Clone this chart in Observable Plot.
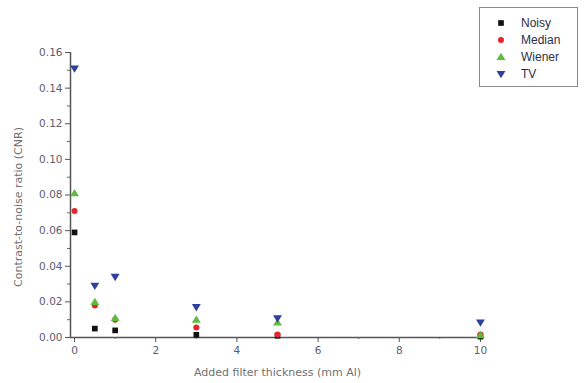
<!DOCTYPE html>
<html><head><meta charset="utf-8">
<script src="https://cdn.jsdelivr.net/npm/d3@7"></script>
<script src="https://cdn.jsdelivr.net/npm/@observablehq/plot@0.6"></script>
<style>
body{margin:0;background:#fff;font-family:"Liberation Sans",Arial,sans-serif;}
#wrap{position:relative;width:585px;height:383px;}
#legend{position:absolute;left:479px;top:7px;width:99px;height:80px;border:1.5px solid #888;box-sizing:border-box;background:#fff;}
.item{position:absolute;left:0;height:16px;display:flex;align-items:center;font-size:12px;color:#2c2f45;}
.item svg{margin-left:15px;margin-right:14px;}
</style></head>
<body><div id="wrap"><div id="legend"></div></div>
<script>
const thickness = [0, 0.5, 1, 3, 5, 10];
const series = ["Noisy", "Median", "Wiener", "TV"];
const noisy  = [0.059, 0.005, 0.004, 0.0015, 0.001, 0.0005];
const median = [0.071, 0.018, 0.010, 0.0056, 0.0017, 0.0017];
const wiener = [0.081, 0.020, 0.011, 0.010, 0.0085, 0.0013];
const tv     = [0.151, 0.029, 0.034, 0.017, 0.0107, 0.0084];
const colors = ["#111111", "#e8232b", "#5dbb3f", "#2f3f9c"];
const yTicks = [0, 0.02, 0.04, 0.06, 0.08, 0.10, 0.12, 0.14, 0.16];
const xTicks = [0, 2, 4, 6, 8, 10];
const xLabel = "Added filter thickness (mm Al)";
const yLabel = "Contrast-to-noise ratio (CNR)";

const triDown = {draw(ctx, size){const s=Math.sqrt(size/0.433)/2; ctx.moveTo(-s, -s*0.7); ctx.lineTo(s, -s*0.7); ctx.lineTo(0, s*0.95); ctx.closePath();}};
const triUp = {draw(ctx, size){const s=Math.sqrt(size/0.433)/2; ctx.moveTo(-s, s*0.7); ctx.lineTo(s, s*0.7); ctx.lineTo(0, -s*0.95); ctx.closePath();}};
const symbols = [d3.symbolSquare, d3.symbolCircle, triUp, triDown];
const sizes = [3.2, 3.0, 3.3, 3.3];
const vals = [noisy, median, wiener, tv];

const data = [];
series.forEach((s, i) => thickness.forEach((t, j) => data.push({series: s, x: t, y: vals[i][j]})));

const minorY = d3.range(1, 16, 2).map(d => d / 100);
const minorX = [1, 3, 5, 7, 9];
const txt = "#5a5d70";
const lab = "#707070";
const font = "DejaVu Sans, Verdana, sans-serif";
const marks = [
  Plot.ruleX([-0.1], {y1: 0, y2: 0.16, stroke: "#555", strokeWidth: 1.5}),
  Plot.ruleY([0], {x1: -0.1, x2: 10.1, stroke: "#555", strokeWidth: 1.5}),
  Plot.axisY(yTicks, {tickSize: 5, tickFormat: d3.format(".2f"), fontSize: 10.5, color: txt, stroke: "#555", tickPadding: 3, label: null}),
  Plot.axisY(minorY, {tickSize: 3, tickFormat: () => "", stroke: "#666", label: null}),
  Plot.axisX(xTicks, {tickSize: 5, fontSize: 10.5, color: txt, stroke: "#555", tickPadding: 4, label: null}),
  Plot.axisX(minorX, {tickSize: 2, tickFormat: () => "", stroke: "#666", label: null}),
  Plot.text([yLabel], {frameAnchor: "left", textAnchor: "middle", rotate: -90, dx: -52, dy: 12, fill: lab, fontSize: 11, text: d => d}),
  Plot.text([xLabel], {frameAnchor: "bottom", dy: 38, fill: lab, fontSize: 11, text: d => d})
];
series.forEach((s, i) => {
  marks.push(Plot.dot(data.filter(d => d.series === s), {x: "x", y: "y", symbol: () => symbols[i], r: sizes[i], fill: colors[i], stroke: "none"}));
});

const chart = Plot.plot({
  width: 585, height: 383,
  marginLeft: 70, marginRight: 101, marginTop: 52, marginBottom: 46,
  x: {domain: [-0.1, 10.1]},
  y: {domain: [0, 0.16]},
  symbol: {type: "identity"},
  style: {fontFamily: font, fontSize: "10px", color: txt, background: "#fff", overflow: "visible"},
  marks
});
document.getElementById("wrap").prepend(chart);

const leg = document.getElementById("legend");
series.forEach((s, i) => {
  const div = document.createElement("div");
  div.className = "item";
  div.style.top = (7 + i * 17) + "px";
  const svg = d3.create("svg").attr("width", 12).attr("height", 12);
  svg.append("path").attr("transform", "translate(6,6)")
    .attr("d", d3.symbol(symbols[i], Math.PI * sizes[i] * sizes[i])())
    .attr("fill", colors[i]);
  div.appendChild(svg.node());
  const sp = document.createElement("span"); sp.textContent = s; div.appendChild(sp);
  leg.appendChild(div);
});
</script></body></html>
